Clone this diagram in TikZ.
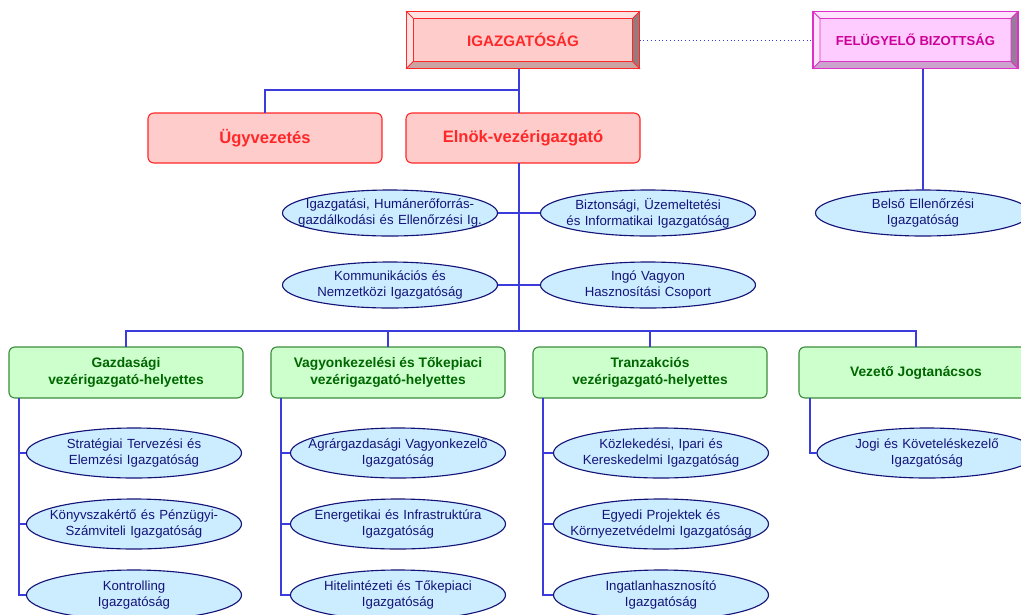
\documentclass[tikz,border=0pt]{standalone}
\usepackage{fontspec}
\setmainfont{Liberation Sans}
\usepackage{tikz}
\usetikzlibrary{shapes.geometric,calc}

\definecolor{vonal}{RGB}{60,60,220}
\definecolor{rozsa}{RGB}{255,204,204}
\definecolor{piros}{RGB}{255,40,40}
\definecolor{lila}{RGB}{255,204,255}
\definecolor{bibor}{RGB}{220,50,200}
\definecolor{biborszoveg}{RGB}{204,0,153}
\definecolor{zold}{RGB}{204,255,204}
\definecolor{zoldkeret}{RGB}{60,140,60}
\definecolor{zoldszoveg}{RGB}{0,102,0}
\definecolor{kek}{RGB}{204,236,255}
\definecolor{sotetkek}{RGB}{20,20,120}

\begin{document}
\begin{tikzpicture}[x=0.025cm,y=-0.025cm,
	kapcs/.style={draw=vonal,line width=1.1pt},
	testulet/.style={rectangle,fill=#1,minimum height=1.425cm,inner sep=0,outer sep=0,font=\fontsize{10.8}{13}\selectfont\bfseries},
	vezetes/.style={rectangle,rounded corners=0.15cm,fill=rozsa,draw=piros,line width=0.8pt,minimum width=5.85cm,minimum height=1.25cm,outer sep=0,text=piros,font=\fontsize{11.8}{14}\selectfont\bfseries},
	helyettes/.style={rectangle,rounded corners=0.15cm,fill=zold,draw=zoldkeret,line width=0.8pt,minimum width=5.85cm,minimum height=1.275cm,outer sep=0,align=center,text=zoldszoveg,font=\fontsize{9.8}{12}\selectfont\bfseries},
	igazgatosag/.style={ellipse,fill=kek,draw=sotetkek,line width=0.8pt,text width=4.6cm,inner xsep=-0.4cm,inner ysep=0pt,minimum width=5.375cm,minimum height=#1,outer sep=0,align=center,text=sotetkek,font=\fontsize{9.4}{11.4}\selectfont},
	igazgatosag/.default=1.25cm]

	\useasboundingbox (0,0) rectangle (1021,614);

	% felso szint
	\node[testulet=rozsa,draw=piros,minimum width=5.825cm,text=piros] (igaz) at (523,40) {IGAZGATÓSÁG};
	\node[testulet=lila,draw=bibor,minimum width=5.125cm,text=biborszoveg,font=\fontsize{9.3}{12}\selectfont\bfseries] (fb) at (915.5,40) {FELÜGYELŐ BIZOTTSÁG};

	\foreach \n/\vil/\sot/\sotet/\ker in {igaz/rozsa!55!white/rozsa!80!black/rozsa!60!black/piros, fb/lila!55!white/lila!80!black/lila!60!black/bibor} {
		\filldraw[fill=\vil,draw=\ker,line width=0.5pt] (\n.north west) -- (\n.north east) -- ($(\n.north east)+(-7,7)$) -- ($(\n.north west)+(7,7)$) -- cycle;
		\filldraw[fill=\vil,draw=\ker,line width=0.5pt] (\n.north west) -- ($(\n.north west)+(7,7)$) -- ($(\n.south west)+(7,-7)$) -- (\n.south west) -- cycle;
		\filldraw[fill=\sot,draw=\ker,line width=0.5pt] (\n.south west) -- (\n.south east) -- ($(\n.south east)+(-7,-7)$) -- ($(\n.south west)+(7,-7)$) -- cycle;
		\filldraw[fill=\sotet,draw=\ker,line width=0.5pt] (\n.north east) -- (\n.south east) -- ($(\n.south east)+(-7,-7)$) -- ($(\n.north east)+(-7,7)$) -- cycle;
		\draw[\ker,line width=1.2pt] (\n.north west) rectangle (\n.south east);
	}

	\draw[vonal,dotted,line width=0.7pt] (igaz.east) -- (fb.west);

	% masodik szint
	\node[vezetes] (ugyv) at (265,138) {Ügyvezetés};
	\node[vezetes] (elnok) at (523,138) {Elnök-vezérigazgató};
	\coordinate (elag) at (519,90);

	\draw[kapcs] (igaz.south -| elag) -- (elnok.north -| elag);
	\draw[kapcs] (ugyv.north) |- (elag);

	% torzs melletti igazgatosagok
	\node[igazgatosag=1.15cm] (hum) at (390,213) {Igazgatási, Humánerőforrás-\\gazdálkodási és Ellenőrzési Ig.};
	\node[igazgatosag=1.15cm] (bizt) at (648,213) {Biztonsági, Üzemeltetési\\és Informatikai Igazgatóság};
	\node[igazgatosag=1.15cm] (komm) at (390,285) {Kommunikációs és\\Nemzetközi Igazgatóság};
	\node[igazgatosag=1.15cm] (ingo) at (648,285) {Ingó Vagyon\\Hasznosítási Csoport};
	\node[igazgatosag=1.15cm] (belso) at (923,213) {Belső Ellenőrzési\\Igazgatóság};

	\coordinate (sin) at (519,331);
	\draw[kapcs] (elnok.south -| sin) -- (sin);
	\draw[kapcs] (hum.east) -- (bizt.west);
	\draw[kapcs] (komm.east) -- (ingo.west);
	\draw[kapcs] (belso.north) -- (belso.north |- fb.south);

	% helyettesek
	\node[helyettes] (gazd) at (126,372.5) {Gazdasági\\vezérigazgató-helyettes};
	\node[helyettes] (vagy) at (388,372.5) {Vagyonkezelési és Tőkepiaci\\vezérigazgató-helyettes};
	\node[helyettes] (tran) at (650,372.5) {Tranzakciós\\vezérigazgató-helyettes};
	\node[helyettes] (jog) at (916,372.5) {Vezető Jogtanácsos};

	\draw[kapcs] (gazd.north) |- (sin);
	\draw[kapcs] (vagy.north) |- (sin);
	\draw[kapcs] (tran.north) |- (sin);
	\draw[kapcs] (jog.north) |- (sin);

	% also igazgatosagok
	\node[igazgatosag] (strat) at (134,453) {Stratégiai Tervezési és\\Elemzési Igazgatóság};
	\node[igazgatosag] (konyv) at (134,524) {Könyvszakértő és Pénzügyi-\\Számviteli Igazgatóság};
	\node[igazgatosag] (kontr) at (134,595) {Kontrolling\\Igazgatóság};

	\node[igazgatosag] (agrar) at (398,453) {Agrárgazdasági Vagyonkezelő\\Igazgatóság};
	\node[igazgatosag] (energ) at (398,524) {Energetikai és Infrastruktúra\\Igazgatóság};
	\node[igazgatosag] (hitel) at (398,595) {Hitelintézeti és Tőkepiaci\\Igazgatóság};

	\node[igazgatosag] (kozl) at (661,453) {Közlekedési, Ipari és\\Kereskedelmi Igazgatóság};
	\node[igazgatosag] (egyedi) at (661,524) {Egyedi Projektek és\\Környezetvédelmi Igazgatóság};
	\node[igazgatosag] (ingatl) at (661,595) {Ingatlanhasznosító\\Igazgatóság};

	\node[igazgatosag,minimum width=5.5cm] (jogi) at (927,453) {Jogi és Követeléskezelő\\Igazgatóság};

	\foreach \h/\a/\b/\c in {gazd/strat/konyv/kontr, vagy/agrar/energ/hitel, tran/kozl/egyedi/ingatl} {
		\coordinate (t\h) at ($(\h.south west)+(10,0)$);
		\draw[kapcs] (t\h) |- (\c.west);
		\draw[kapcs] (t\h |- \a.west) -- (\a.west);
		\draw[kapcs] (t\h |- \b.west) -- (\b.west);
	}
	\coordinate (tjog) at ($(jog.south west)+(11,0)$);
	\draw[kapcs] (tjog) |- (jogi.west);

\end{tikzpicture}
\end{document}
